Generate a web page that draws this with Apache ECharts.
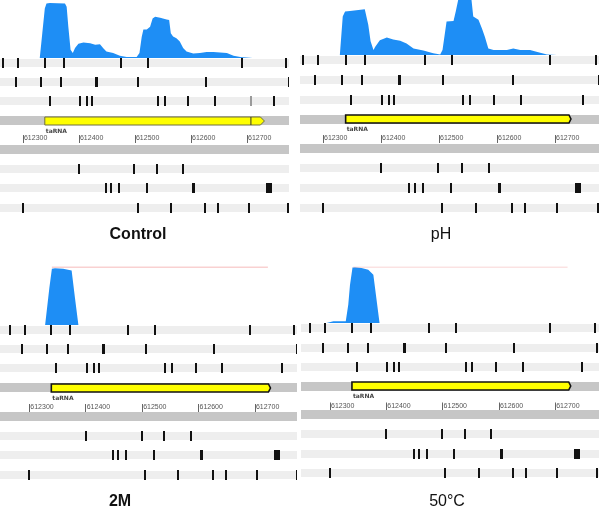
<!DOCTYPE html>
<html><head><meta charset="utf-8">
<script src="https://cdn.jsdelivr.net/npm/echarts@6/dist/echarts.min.js"></script>
<style>html,body{margin:0;padding:0;background:#fff}#c{width:600px;height:508px}</style>
</head><body><div id="c"></div>
<script>
// ---------------- DATA ----------------
const panelNames = ['Control', 'pH', '2M', '50°C'];
const axisTicks = [612300, 612400, 612500, 612600, 612700];
const geneName = 'taRNA';
const geneSpan = [612339, 612724];
const controlGeneSplit = 612707;

// feature tracks: a number = single-site feature, [start,end] = interval feature
const track1 = [612265, 612292, 612339, 612373, 612475, 612523, 612691, 612770];
const track2 = [612287, 612332, 612368, [612429, 612435], 612506, 612627, 612775];
const track3 = [612348, 612402, 612414, 612423, 612541, 612553, 612595, 612642, 612748];
const controlFaint3 = [612707];
const track4 = [612400, 612499, 612539, 612586];
const track5 = [612449, 612458, 612472, 612521, [612602, 612607], [612734, 612744]];
const track6 = [612300, 612505, 612564, 612625, 612649, 612703, 612774];

// coverage (relative, % of panel max)
const covControl = [[612330,0],[612334.5,45],[612339,90],[612342,99],[612348,100],[612375,99],[612378,93],[612381,57],[612385,15],[612389,9],[612393,18],[612399,26],[612408,28],[612420,27],[612429,24],[612437.5,25],[612443,18],[612449,12],[612461,9],[612473,4],[612485,2],[612503,2],[612508,9],[612512,38],[612515,52],[612521,52],[612527,57],[612531.5,72],[612536,75],[612545,73],[612556.5,70],[612561,69],[612564,45],[612568,39],[612574,36],[612580,30],[612586,18],[612592,12],[612604,8],[612616,9],[612628,11],[612640,11],[612652,10],[612664,9],[612676,4],[612688,2],[612710,0.5]];
const covPH = [[612329,0],[612334,70],[612338,79],[612346.5,80],[612372,83],[612375,80],[612378,55],[612382,25],[612387,9],[612390,15],[612398,27],[612410,32],[612421,28],[612433,26],[612444,21],[612456,12],[612473,8],[612490,3],[612502,1],[612506,9],[612513,61],[612525,62],[612529,80],[612533,100],[612556,100],[612559,70],[612568,64],[612574,48],[612579,33],[612585,12],[612594,9],[612617,9],[612628,12],[612640,9],[612657,9],[612668,6],[612686,1],[612703,0]];
const cov2M = [[612328,0],[612335.5,64],[612340,97],[612345.5,98],[612360,97],[612375,94],[612381,46],[612387,0]];
const cov50 = [[612294,0],[612306,3],[612328,3],[612332.5,33],[612335.5,68],[612340,99],[612344,100],[612356,98],[612368,95],[612377,86],[612388,0]];
const maxLine2M = [[612340,100],[612723,100]];
const maxLine50 = [[612341,100],[612722,100]];

// ---------------- LAYOUT ----------------
const layouts = [
  {left:0,   width:289, min:612259,   max:612775,   cov:[3,55],   up:[53.8,76.3],  ax:[135,8],   low:[139.25,78], title:[138,235], bold:true},
  {left:300, width:299, min:612260.3, max:612775.8, cov:[0,55],   up:[50.1,79.2],  ax:[135,8],   low:[138.6,78.8], title:[441,235], bold:false},
  {left:0,   width:297, min:612248,   max:612774.6, cov:[267,58], up:[320.4,76.7], ax:[404,8],   low:[407.4,76.7], title:[120,502], bold:true},
  {left:301, width:298, min:612248.5, max:612777.8, cov:[267,56], up:[318.8,77.3], ax:[402.5,8], low:[405.3,77.3], title:[447,502], bold:false}
];
const coverages = [covControl, covPH, cov2M, cov50];
const maxLines = [null, null, maxLine2M, maxLine50];
const maxLineColors = [null, null, '#f4a3a3', '#f8c6c6'];
const upperShades = [0, 0, 0, 1];
const lowerShades = [1, 0, 0, 0];

function toItems(track, row) {
  return track.map(f => Array.isArray(f) ? [f[0], row, f[1]] : [f, row, f]);
}
function renderBand(params, api) {
  const cs = params.coordSys;
  const y = api.coord([api.value(0), api.value(1)])[1];
  const dark = api.value(2) === 1;
  const h = dark ? 9 : 8;
  return {type: 'rect', shape: {x: cs.x, y: Math.round(y - h / 2), width: cs.width, height: h},
    style: {fill: dark ? '#c6c6c6' : '#eeeeee'}};
}
function renderTick(params, api) {
  const a = api.coord([api.value(0), api.value(1)]);
  const b = api.coord([api.value(2), api.value(1)]);
  const w = Math.max(2, Math.round(b[0] - a[0]));
  const cx = (a[0] + b[0]) / 2;
  return {type: 'rect', shape: {x: Math.round(cx - w / 2), y: Math.round(a[1] - 5), width: w, height: 10},
    style: {fill: api.visual('color')}};
}
function makeGeneRenderer(isControl) {
  return function (params, api) {
    const a = api.coord([api.value(0), api.value(1)]);
    const b = api.coord([api.value(2), api.value(1)]);
    const y = Math.round(a[1]), h = 4;
    const tip = isControl ? 4 : 2;
    const children = [
      {type: 'polygon', shape: {points: [[a[0], y - h], [b[0], y - h], [b[0] + tip, y], [b[0], y + h], [a[0], y + h]]},
        style: {fill: '#ffff00', stroke: isControl ? '#6f6f40' : '#111', lineWidth: isControl ? 1 : 1.6}},
      {type: 'text', x: a[0] + 1, y: y + 10,
        style: {text: geneName, font: 'bold 6px "DejaVu Sans"', fill: '#444', align: 'left', verticalAlign: 'middle'}}
    ];
    if (isControl) {
      const s = api.coord([controlGeneSplit, api.value(1)]);
      children.push({type: 'line', shape: {x1: s[0], y1: y - h, x2: s[0], y2: y + h}, style: {stroke: '#333', lineWidth: 1}});
    }
    return {type: 'group', children};
  };
}

const grid = [], xAxis = [], yAxis = [], series = [], graphic = [];
layouts.forEach((L, p) => {
  const g0 = grid.length;
  grid.push({left: L.left, width: L.width, top: L.cov[0], height: L.cov[1]});
  grid.push({left: L.left, width: L.width, top: L.up[0], height: L.up[1]});
  grid.push({left: L.left, width: L.width, top: L.ax[0], height: L.ax[1]});
  grid.push({left: L.left, width: L.width, top: L.low[0], height: L.low[1]});
  for (let k = 0; k < 4; k++) {
    const xa = {gridIndex: g0 + k, type: 'value', min: L.min, max: L.max, show: false};
    if (k === 2) {
      Object.assign(xa, {show: true, position: 'bottom', axisLine: {show: false}, splitLine: {show: false},
        axisTick: {show: true, inside: true, length: 8, customValues: axisTicks, lineStyle: {color: '#666', width: 1}},
        axisLabel: {show: true, customValues: axisTicks, formatter: v => String(v), align: 'left', verticalAlign: 'bottom',
          margin: -1, padding: [0, 0, 0, 1], fontSize: 7, fontFamily: 'Liberation Sans', color: '#555'}});
    }
    xAxis.push(xa);
  }
  yAxis.push({gridIndex: g0, type: 'value', min: 0, max: 100, show: false});
  yAxis.push({gridIndex: g0 + 1, type: 'category', data: ['t1', 't2', 't3', 'gene'], inverse: true, show: false});
  yAxis.push({gridIndex: g0 + 2, type: 'value', show: false});
  yAxis.push({gridIndex: g0 + 3, type: 'category', data: ['axisband', 't4', 't5', 't6'], inverse: true, show: false});

  // coverage
  series.push({type: 'line', xAxisIndex: g0, yAxisIndex: g0, data: coverages[p], symbol: 'none', silent: true,
    lineStyle: {width: 0}, areaStyle: {color: '#1e8ef5', opacity: 1}, z: 2});
  if (maxLines[p]) {
    series.push({type: 'line', xAxisIndex: g0, yAxisIndex: g0, data: maxLines[p], symbol: 'none', silent: true,
      lineStyle: {width: 1, color: maxLineColors[p]}, z: 3});
  }
  // bands
  series.push({type: 'custom', xAxisIndex: g0 + 1, yAxisIndex: g0 + 1, renderItem: renderBand, silent: true, z: 1,
    data: upperShades.map((s, i) => [geneSpan[0], i, s])});
  series.push({type: 'custom', xAxisIndex: g0 + 3, yAxisIndex: g0 + 3, renderItem: renderBand, silent: true, z: 1,
    data: lowerShades.map((s, i) => [geneSpan[0], i, s])});
  // ticks
  series.push({type: 'custom', xAxisIndex: g0 + 1, yAxisIndex: g0 + 1, renderItem: renderTick, clip: true, silent: true, z: 3,
    itemStyle: {color: '#111'}, encode: {x: [0, 2], y: 1},
    data: [].concat(toItems(track1, 0), toItems(track2, 1), toItems(track3, 2))});
  if (p === 0) {
    series.push({type: 'custom', xAxisIndex: g0 + 1, yAxisIndex: g0 + 1, renderItem: renderTick, clip: true, silent: true, z: 3,
      itemStyle: {color: '#9a9a9a'}, encode: {x: [0, 2], y: 1}, data: toItems(controlFaint3, 2)});
  }
  series.push({type: 'custom', xAxisIndex: g0 + 3, yAxisIndex: g0 + 3, renderItem: renderTick, clip: true, silent: true, z: 3,
    itemStyle: {color: '#111'}, encode: {x: [0, 2], y: 1},
    data: [].concat(toItems(track4, 1), toItems(track5, 2), toItems(track6, 3))});
  // gene
  series.push({type: 'custom', xAxisIndex: g0 + 1, yAxisIndex: g0 + 1, renderItem: makeGeneRenderer(p === 0), clip: false, silent: true, z: 4,
    encode: {x: [0, 2], y: 1}, data: [[geneSpan[0], 3, geneSpan[1]]]});
  // title
  graphic.push({type: 'text', x: L.title[0], y: L.title[1],
    style: {text: panelNames[p], font: (L.bold ? 'bold ' : '') + '16px "Liberation Sans"', fill: '#111', align: 'center', verticalAlign: 'middle'}});
});

const chart = echarts.init(document.getElementById('c'), null, {renderer: 'canvas'});
chart.setOption({animation: false, backgroundColor: '#fff', grid, xAxis, yAxis, series, graphic});
</script>
</body></html>
